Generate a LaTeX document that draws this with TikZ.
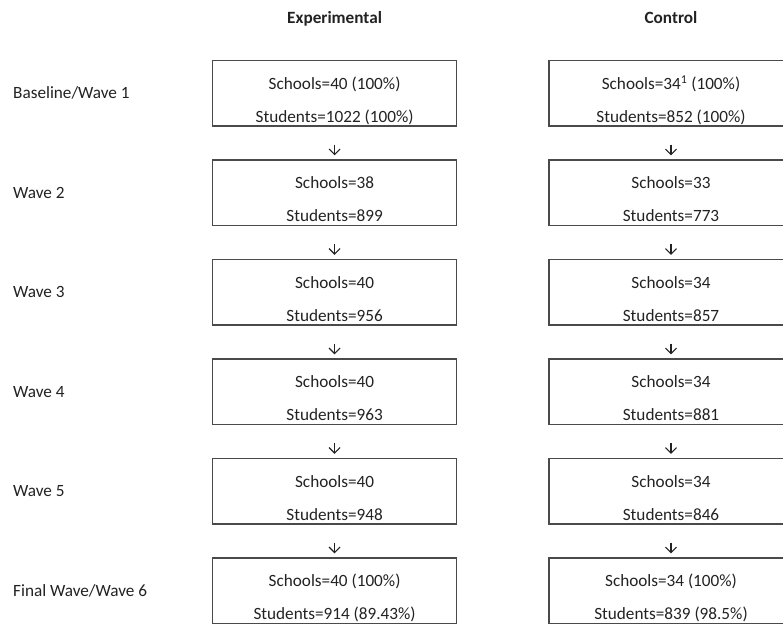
\documentclass[tikz,border=0pt]{standalone}
\usepackage{fontspec}
\setmainfont{Carlito}
\usetikzlibrary{arrows.meta}
\definecolor{boxline}{HTML}{4A4A4A}
\definecolor{txt}{HTML}{222222}
\begin{document}
\begin{tikzpicture}[x=1pt,y=-1pt,
  every node/.style={text=txt,font=\fontsize{17.2}{20}\selectfont},
  wavebox/.style={draw=boxline,line width=1.3pt,minimum width=244pt,minimum height=65.5pt,inner sep=0pt},
  line1/.style={anchor=base},
  wavelabel/.style={anchor=base west,inner sep=0pt},
  head/.style={anchor=base,font=\fontsize{17.2}{20}\selectfont\bfseries},
  arr/.style={draw=txt,line width=1.1pt,-{Straight Barb[length=5.5pt,width=11pt,line width=1.1pt]},shorten <=18pt,shorten >=4pt}]
\useasboundingbox (0,0) rectangle (783,627);

\node[head] (hE) at (334.6,23) {Experimental};
\node[head] (hC) at (671,23) {Control};

\foreach \i/\lab/\es/\et/\cs/\ct in {
  1/Baseline\slash Wave 1/Schools=40 (100\%)/Students=1022 (100\%)/Schools=34\textsuperscript{1} (100\%)/Students=852 (100\%),
  2/Wave 2/Schools=38/Students=899/Schools=33/Students=773,
  3/Wave 3/Schools=40/Students=956/Schools=34/Students=857,
  4/Wave 4/Schools=40/Students=963/Schools=34/Students=881,
  5/Wave 5/Schools=40/Students=948/Schools=34/Students=846,
  6/Final Wave\slash Wave 6/Schools=40 (100\%)/Students=914 (89.43\%)/Schools=34 (100\%)/Students=839 (98.5\%)}{
  \pgfmathsetmacro{\yc}{60.5+99.5*(\i-1)+32.75}
  \node[wavebox] (e\i) at (334.6,\yc) {};
  \node[wavebox] (c\i) at (671,\yc) {};
  \node[line1] (es\i) at ([yshift=-29.5pt]e\i.north) {\es};
  \node[line1] (et\i) at ([yshift=-62.5pt]e\i.north) {\et};
  \node[line1] (cs\i) at ([yshift=-29.5pt]c\i.north) {\cs};
  \node[line1] (ct\i) at ([yshift=-62.5pt]c\i.north) {\ct};
  \node[wavelabel] (l\i) at (13,\yc+5.5) {\lab};
}
\foreach \i [evaluate=\i as \j using int(\i+1)] in {1,...,5}{
  \draw[arr] (e\i.south) -- (e\j.north);
  \draw[arr] (c\i.south) -- (c\j.north);
}
\end{tikzpicture}
\end{document}
